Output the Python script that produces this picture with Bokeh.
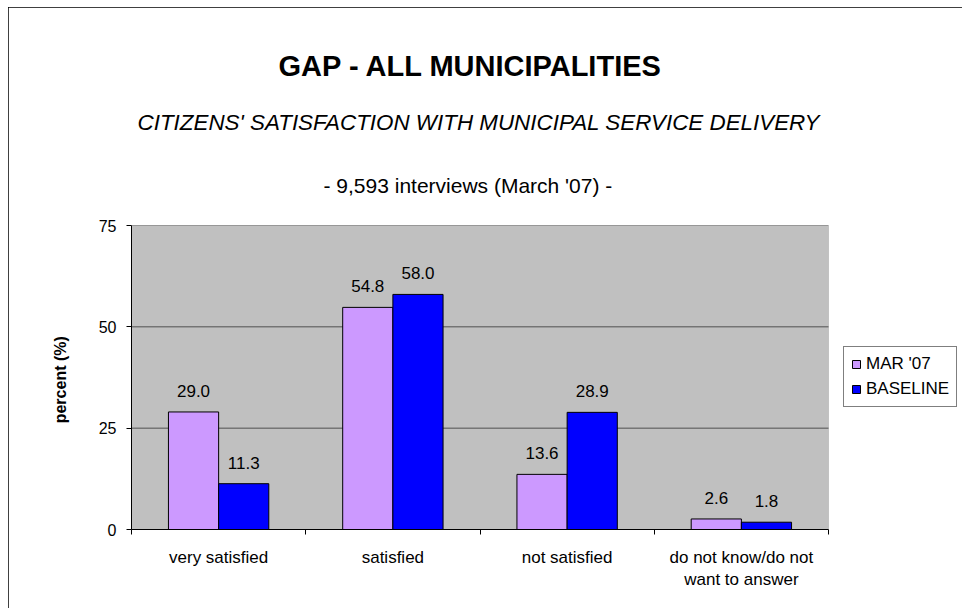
from bokeh.plotting import figure
from bokeh.models import (ColumnDataSource, Range1d, FixedTicker, LabelSet, Legend,
                          LegendItem, Title, BoxAnnotation)
from bokeh.core.properties import value
from bokeh.embed import file_html
from bokeh.resources import INLINE

# ---- data ----
categories = ["very satisfied", "satisfied", "not satisfied", "do not know/do not\nwant to answer"]
series_names = ["MAR '07", "BASELINE"]
mar07 = [29.0, 54.8, 13.6, 2.6]
baseline = [11.3, 58.0, 28.9, 1.8]
y_ticks = [0, 25, 50, 75]
y_max = 75

title_text = "GAP -  ALL MUNICIPALITIES"
subtitle_text = "CITIZENS' SATISFACTION WITH MUNICIPAL SERVICE DELIVERY"
note_text = "- 9,593 interviews (March '07) -"
y_label = "percent  (%)"

FONT = "Liberation Sans"
BAR_W = 0.288
colors = ["#CC99FF", "#0000FF"]

# layout (pixels)
PLOT_W = 697          # width of the grey plot area
FRAME_W = 829         # frame extends right to hold the legend
FRAME_H = 304

n = len(categories)
centers = [i + 0.5 for i in range(n)]

p = figure(frame_width=FRAME_W, frame_height=FRAME_H, output_backend="svg", toolbar_location=None,
           x_range=Range1d(0, n * FRAME_W / PLOT_W), y_range=Range1d(0, y_max),
           min_border_left=123, min_border_right=2, min_border_top=218,
           min_border_bottom=79, background_fill_color="white",
           border_fill_color="white", outline_line_color=None,
           margin=(7, 0, 0, 8),
           styles={"outline": "1px solid black", "outline-offset": "-1px"})

# grey plot area
p.add_layout(BoxAnnotation(left=0, right=n, bottom=0, top=y_max, fill_color="#C0C0C0",
                           fill_alpha=1, line_color="#808080", line_width=1, level="image"))
# horizontal gridlines
p.segment(x0=[0] * (len(y_ticks) - 1), x1=[n] * (len(y_ticks) - 1),
          y0=y_ticks[1:], y1=y_ticks[1:], line_color="#505050", line_width=1)

renderers = []
for k, vals in enumerate([mar07, baseline]):
    xs = [c + (k - 0.5) * BAR_W for c in centers]
    src = ColumnDataSource(dict(x=xs, top=vals, lab=[f"{v:.1f}" for v in vals]))
    r = p.vbar(x="x", top="top", width=BAR_W, bottom=0, source=src,
               fill_color=colors[k], line_color="black", line_width=1)
    renderers.append(r)
    p.add_layout(LabelSet(x="x", y="top", text="lab", source=src, text_align="center",
                          text_baseline="alphabetic", y_offset=15,
                          text_font=value(FONT), text_font_size="17px", text_color="black"))

# axes
p.xgrid.visible = False
p.ygrid.visible = False

p.yaxis.ticker = FixedTicker(ticks=y_ticks)
p.yaxis.axis_line_color = "black"
p.yaxis.major_tick_line_color = "black"
p.yaxis.major_tick_out = 5
p.yaxis.major_tick_in = 0
p.yaxis.minor_tick_line_color = None
p.yaxis.major_label_text_font = FONT
p.yaxis.major_label_text_font_size = "16px"
p.yaxis.major_label_text_color = "black"
p.yaxis.major_label_standoff = 10
p.yaxis.axis_label = y_label
p.yaxis.axis_label_text_font = FONT
p.yaxis.axis_label_text_font_size = "16px"
p.yaxis.axis_label_text_font_style = "bold"
p.yaxis.axis_label_text_color = "black"
p.yaxis.axis_label_standoff = 27

p.xaxis.bounds = (0, n)
p.xaxis.ticker = FixedTicker(ticks=centers, minor_ticks=list(range(n + 1)))
p.xaxis.major_label_overrides = {c: lab for c, lab in zip(centers, categories)}
p.xaxis.axis_line_color = "black"
p.xaxis.major_tick_line_color = None
p.xaxis.major_tick_out = 0
p.xaxis.major_tick_in = 0
p.xaxis.minor_tick_line_color = "black"
p.xaxis.minor_tick_out = 5
p.xaxis.minor_tick_in = 0
p.xaxis.major_label_text_font = FONT
p.xaxis.major_label_text_font_size = "17px"
p.xaxis.major_label_text_color = "black"
p.xaxis.major_label_standoff = 13

# titles (first added is closest to the frame); left-aligned with offsets from frame left
p.add_layout(Title(text=note_text, align="left", offset=192, text_font=FONT, text_font_size="21px",
                   text_font_style="normal", text_color="black", standoff=57), "above")
p.add_layout(Title(text=subtitle_text, align="left", offset=6, text_font=FONT, text_font_size="22.4px",
                   text_font_style="italic", text_color="black", standoff=17), "above")
p.add_layout(Title(text=title_text, align="left", offset=147, text_font=FONT, text_font_size="29px",
                   text_font_style="bold", text_color="black", standoff=36), "above")

legend = Legend(items=[LegendItem(label=nm, renderers=[r]) for nm, r in zip(series_names, renderers)],
                location=(712, 122), orientation="vertical",
                label_text_font=FONT, label_text_font_size="17px", label_text_color="black",
                glyph_width=10, glyph_height=10, label_height=20, label_standoff=5,
                padding=7, spacing=5, margin=0,
                border_line_color="black", border_line_width=1,
                background_fill_color="white", background_fill_alpha=1)
p.add_layout(legend, "center")

open("out.html", "w").write(file_html(p, INLINE))
